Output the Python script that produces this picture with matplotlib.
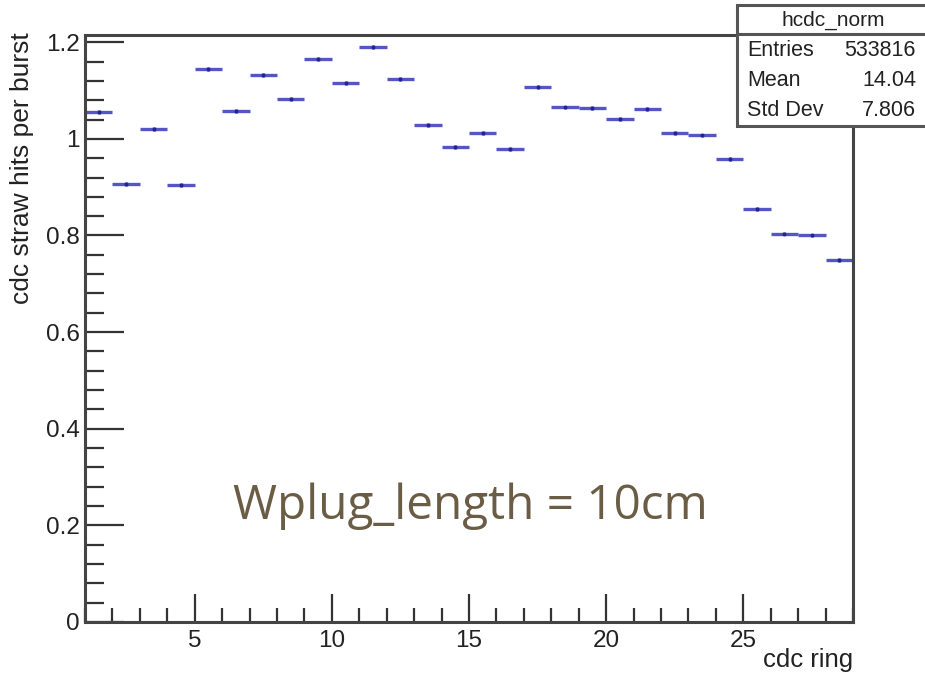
import numpy as np
import matplotlib
matplotlib.use("Agg")
import matplotlib.pyplot as plt
from matplotlib.ticker import MultipleLocator
from matplotlib.patches import Rectangle
from matplotlib.lines import Line2D

# cdc ring bins (edges 1..29, unit width) and normalised hits per burst
ring_edges = np.arange(1, 30)
hits_per_burst = [1.055, 0.907, 1.020, 0.904, 1.144, 1.057, 1.132, 1.082,
                  1.165, 1.115, 1.191, 1.124, 1.028, 0.983, 1.012, 0.979,
                  1.107, 1.065, 1.064, 1.041, 1.061, 1.012, 1.007, 0.958,
                  0.854, 0.804, 0.800, 0.750]
hits_err = [0.004] * len(hits_per_burst)

stats_title = "hcdc_norm"
stats_rows = [("Entries", "533816"), ("Mean", "14.04"), ("Std Dev", "7.806")]
annotation = "Wplug_length = 10cm"

plt.rcParams["font.family"] = ["Liberation Sans", "DejaVu Sans"]

W, H = 925, 675
fig = plt.figure(figsize=(W / 100, H / 100), dpi=100)
ax = fig.add_axes([85 / W, 1 - 622 / H, (853 - 85) / W, (622 - 35) / H])

centers = (ring_edges[:-1] + ring_edges[1:]) / 2
half_w = np.diff(ring_edges) / 2
ax.errorbar(centers, hits_per_burst, xerr=half_w, yerr=hits_err, fmt="o",
            ms=2.8, color="#24248f", ecolor="#5555c4", elinewidth=2.4,
            capsize=0, mew=0)

ax.set_xlim(ring_edges[0], ring_edges[-1])
ax.set_ylim(0, 1.215)

ax.xaxis.set_major_locator(MultipleLocator(5))
ax.xaxis.set_minor_locator(MultipleLocator(1))
ax.yaxis.set_minor_locator(MultipleLocator(0.04))
ax.set_yticks([0, 0.2, 0.4, 0.6, 0.8, 1.0, 1.2])
ax.set_yticklabels(["0", "0.2", "0.4", "0.6", "0.8", "1", "1.2"])

ax.tick_params(axis="both", which="both", direction="in", top=False,
               right=False, colors="#333333", labelcolor="#222222",
               labelsize=17.5, width=1.6)
ax.tick_params(axis="y", which="major", length=28, pad=4)
ax.tick_params(axis="y", which="minor", length=14)
ax.tick_params(axis="x", which="major", length=20, pad=6)
ax.tick_params(axis="x", which="minor", length=10)

for s in ax.spines.values():
    s.set_color("#444444")
    s.set_linewidth(2.2)

fig.text(853 / W, 1 - 660 / H, "cdc ring", ha="right", va="center",
         fontsize=18.5, color="#222222")
fig.text(22 / W, 1 - 32 / H, "cdc straw hits per burst", rotation=90,
         ha="center", va="top", fontsize=19, color="#222222")

fig.text(233 / W, 1 - 519 / H, annotation, ha="left", va="baseline",
         fontsize=34.3, color="#6b5d45", family=["Open Sans", "DejaVu Sans"])

# statistics box in the upper-right corner
bx0, bx1, by0, by1, bdiv = 737, 930, 5, 126, 34
fig.patches.append(Rectangle((bx0 / W, 1 - by1 / H), (bx1 - bx0) / W,
                             (by1 - by0) / H, transform=fig.transFigure,
                             facecolor="white", edgecolor="#555555",
                             linewidth=2.2, zorder=5))
fig.lines.append(Line2D([bx0 / W, 1], [1 - bdiv / H, 1 - bdiv / H],
                        transform=fig.transFigure, color="#555555",
                        linewidth=2.2, zorder=6))
fig.text(833 / W, 1 - 20 / H, stats_title, ha="center", va="center",
         fontsize=15, color="#222222", zorder=7)
for i, (name, val) in enumerate(stats_rows):
    yy = 1 - (51 + 29.5 * i) / H
    fig.text(747 / W, yy, name, ha="left", va="center", fontsize=15.5,
             color="#222222", zorder=7)
    fig.text(916 / W, yy, val, ha="right", va="center", fontsize=15.5,
             color="#222222", zorder=7)

fig.savefig("out.png", dpi=100)
